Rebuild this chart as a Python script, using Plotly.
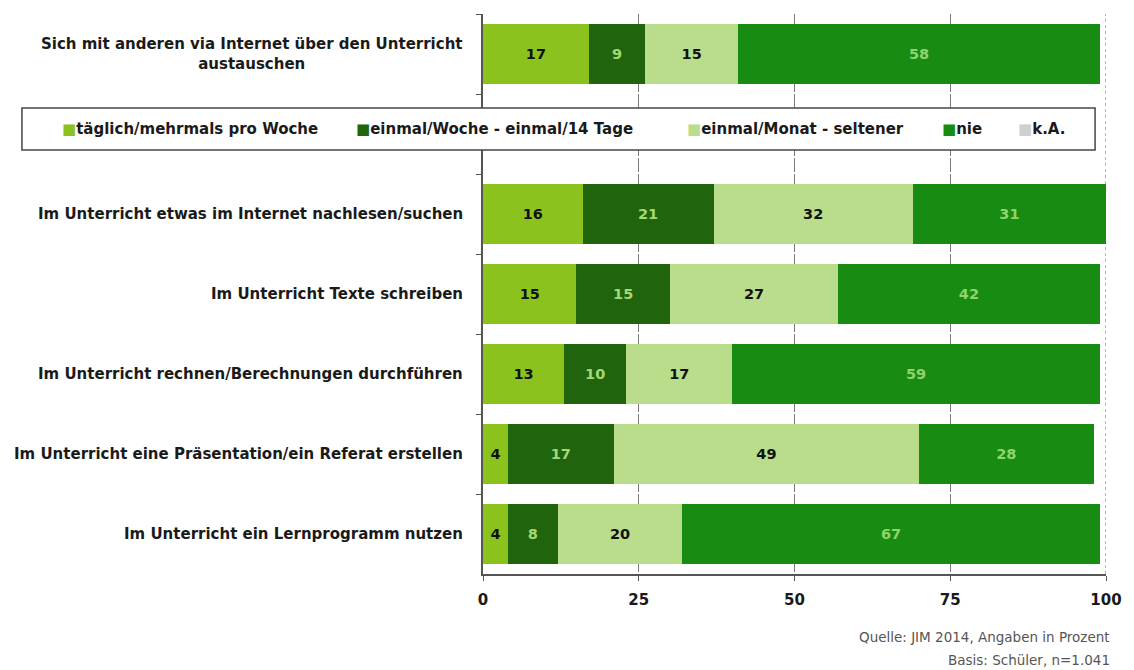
import plotly.graph_objects as go

# Activities (top to bottom); the first one sits above the legend band
categories = [
    "Sich mit anderen via Internet über den Unterricht austauschen",
    "Im Unterricht etwas im Internet nachlesen/suchen",
    "Im Unterricht Texte schreiben",
    "Im Unterricht rechnen/Berechnungen durchführen",
    "Im Unterricht eine Präsentation/ein Referat erstellen",
    "Im Unterricht ein Lernprogramm nutzen",
]
category_labels = [
    "Sich mit anderen via Internet über den Unterricht<br>austauschen",
    "Im Unterricht etwas im Internet nachlesen/suchen",
    "Im Unterricht Texte schreiben",
    "Im Unterricht rechnen/Berechnungen durchführen",
    "Im Unterricht eine Präsentation/ein Referat erstellen",
    "Im Unterricht ein Lernprogramm nutzen",
]
gap_slot = " "

# Percent values per frequency class
taeglich = [17, 16, 15, 13, 4, 4]
woche = [9, 21, 15, 10, 17, 8]
monat = [15, 32, 27, 17, 49, 20]
nie = [58, 31, 42, 59, 28, 67]

series_names = [
    "täglich/mehrmals pro Woche",
    "einmal/Woche - einmal/14 Tage",
    "einmal/Monat - seltener",
    "nie",
    "k.A.",
]
series_values = [taeglich, woche, monat, nie]
series_colors = ["#8cc21e", "#20640e", "#b9dd8a", "#188c12", "#cfcfcf"]
label_colors = ["#111111", "#a3d873", "#111111", "#8fd46c"]

x_ticks = [0, 25, 50, 75, 100]
source_lines = ["Quelle: JIM 2014, Angaben in Prozent", "Basis: Schüler, n=1.041"]

FONT = "DejaVu Sans"

fig = go.Figure()
for name, vals, col, tcol in zip(series_names, series_values, series_colors, label_colors):
    fig.add_trace(go.Bar(
        y=categories,
        x=vals,
        orientation="h",
        name=name,
        marker=dict(color=col, line=dict(width=0)),
        text=[str(v) for v in vals],
        textposition="inside",
        insidetextanchor="middle",
        textangle=0,
        textfont=dict(family=FONT, size=14.5, color=tcol, weight="bold"),
        hoverinfo="skip",
        showlegend=False,
    ))

annotations = []
# Category labels left of the axis
for cat, lab in zip(categories, category_labels):
    annotations.append(dict(
        x=0, xref="paper", xshift=-18, xanchor="right",
        y=cat, yref="y", yanchor="middle",
        text=lab, align="center", showarrow=False,
        font=dict(family=FONT, size=15, color="#1a1a1a", weight="bold"),
    ))

# Legend band between the first row and the rest
legend_x_px = [57, 353, 686, 943, 1019]
plot_left, plot_w = 483, 627
plot_top, plot_h = 14, 560
for name, col, px in zip(series_names, series_colors, legend_x_px):
    annotations.append(dict(
        x=(px - plot_left) / plot_w, xref="paper", xanchor="left",
        y=(plot_top + plot_h - 129) / plot_h, yref="paper", yanchor="middle",
        text=f"<span style='color:{col}'>■</span>{name}",
        showarrow=False,
        font=dict(family=FONT, size=15, color="#1a1a1a", weight="bold"),
    ))

# Source note, two right-aligned lines
for line, py in zip(source_lines, [637, 660]):
    annotations.append(dict(
        x=(1116 - plot_left) / plot_w, xref="paper", xanchor="right",
        y=(plot_top + plot_h - py) / plot_h, yref="paper", yanchor="middle",
        text=line, showarrow=False,
        font=dict(family=FONT, size=13.5, color="#555555"),
    ))

shapes = [
    # legend frame
    dict(type="rect", xref="paper", yref="paper",
         x0=(19 - plot_left) / plot_w, x1=(1099 - plot_left) / plot_w,
         y0=(plot_top + plot_h - 150) / plot_h, y1=(plot_top + plot_h - 108) / plot_h,
         line=dict(color="#454545", width=1.5), fillcolor="white", layer="above"),
    # dotted right edge at 100 %
    dict(type="line", xref="x", yref="paper", x0=100, x1=100, y0=0, y1=1,
         line=dict(color="#666666", width=1, dash="dot"), layer="below"),
]

fig.update_layout(
    width=1134, height=670,
    margin=dict(l=plot_left, r=1134 - plot_left - plot_w, t=plot_top, b=670 - plot_top - plot_h),
    paper_bgcolor="white", plot_bgcolor="white",
    barmode="stack", bargap=0.24,
    showlegend=False,
    annotations=annotations,
    shapes=shapes,
    xaxis=dict(
        range=[0, 100], tickvals=x_ticks, ticktext=[str(t) for t in x_ticks],
        showgrid=True, gridcolor="#7a7a7a", gridwidth=1, griddash="14px,2px",
        zeroline=False, showline=True, linecolor="#555555", linewidth=1.5,
        ticks="outside", ticklen=5, tickcolor="#555555", ticklabelstandoff=6,
        tickfont=dict(family=FONT, size=15, color="#1a1a1a", weight="bold"),
    ),
    yaxis=dict(
        type="category",
        categoryorder="array",
        categoryarray=[categories[0], gap_slot] + categories[1:],
        range=[6.5, -0.5],
        showticklabels=False, showgrid=False, zeroline=False,
        showline=True, linecolor="#555555", linewidth=1.5,
        ticks="outside", tickson="boundaries", ticklen=5, tickcolor="#555555",
    ),
)

fig.write_html("out.html")
